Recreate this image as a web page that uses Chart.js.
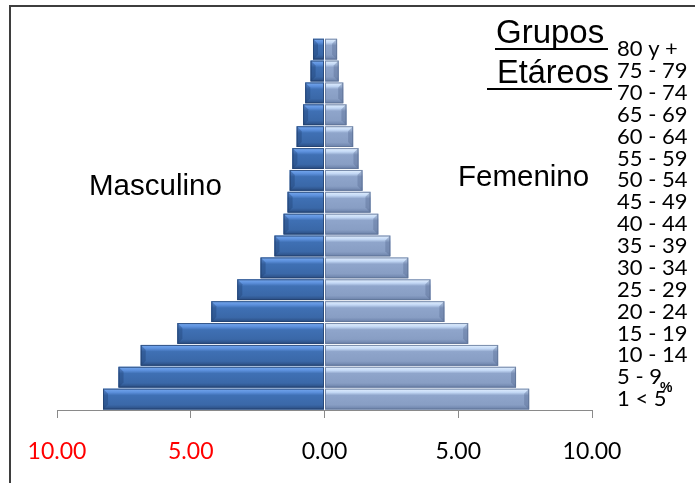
<!DOCTYPE html>
<html>
<head>
<meta charset="utf-8">
<script src="https://cdn.jsdelivr.net/npm/chart.js@4"></script>
<style>
  html, body { margin: 0; padding: 0; background: #fff; }
  #wrap { position: relative; width: 695px; height: 483px; overflow: hidden; }
  #frame { position: absolute; left: 9px; top: 5px; width: 700px; height: 500px;
           border-left: 2px solid #3e3e3e; border-top: 2px solid #3e3e3e; }
  .lbl { position: absolute; font-family: "Liberation Sans", Arial, sans-serif; color: #000; white-space: nowrap; line-height: 1; }
  .uline { position: absolute; height: 0; border-top: 2px solid #000; }
  canvas { position: absolute; left: 0; top: 0; }
</style>
</head>
<body>
<div id="wrap">
  <canvas id="c" width="695" height="483"></canvas>
  <div id="frame"></div>
  <div class="lbl" style="left:89px; top:170px; font-size:29.5px;">Masculino</div>
  <div class="lbl" style="left:458px; top:161px; font-size:29.5px;">Femenino</div>
  <div class="lbl" style="left:496px; top:15px; font-size:33px;">Grupos</div>
  <div class="uline" style="left:495px; top:48px; width:113px;"></div>
  <div class="lbl" style="left:497px; top:56px; font-size:32.5px;">Etáreos</div>
  <div class="uline" style="left:487px; top:88px; width:125px;"></div>
  <div class="lbl" style="left:660px; top:380px; font-size:14px; font-weight:bold;">%</div>
</div>
<script>
// Age groups, top to bottom
const categories = ['80 y +','75 - 79','70 - 74','65 - 69','60 - 64','55 - 59','50 - 54','45 - 49','40 - 44','35 - 39','30 - 34','25 - 29','20 - 24','15 - 19','10 - 14','5 - 9','1 < 5'];
// Percent of population
const male   = [0.43, 0.52, 0.72, 0.80, 1.04, 1.20, 1.30, 1.38, 1.53, 1.87, 2.39, 3.26, 4.23, 5.50, 6.87, 7.70, 8.28];
const female = [0.47, 0.53, 0.70, 0.82, 1.07, 1.27, 1.42, 1.72, 2.01, 2.46, 3.13, 3.96, 4.48, 5.37, 6.49, 7.16, 7.65];
const xTicks = [-10, -5, 0, 5, 10];

const bevelStops = {
  0: [[0, '#78aaf0'], [0.18, '#5b8fdb'], [0.32, '#3f70b4'], [0.78, '#3a68a8'], [1, '#2a4c80']],
  1: [[0, '#e4f1ff'], [0.18, '#c3d8f5'], [0.32, '#8fa5cb'], [0.78, '#889ec4'], [1, '#6a80a8']]
};

const bevelPlugin = {
  id: 'bevel',
  afterDatasetsDraw(chart) {
    const ctx = chart.ctx;
    chart.data.datasets.forEach((ds, di) => {
      const meta = chart.getDatasetMeta(di);
      meta.data.forEach(el => {
        const p = el.getProps(['x', 'y', 'base', 'height'], true);
        const l = Math.min(p.x, p.base), r = Math.max(p.x, p.base);
        const t = p.y - p.height / 2, b = p.y + p.height / 2;
        const g = ctx.createLinearGradient(0, t, 0, b);
        bevelStops[di].forEach(s => g.addColorStop(s[0], s[1]));
        ctx.save();
        ctx.fillStyle = g;
        ctx.fillRect(l, t, r - l, b - t);
        const w = Math.min(5, (r - l) / 2);
        ctx.fillStyle = di === 0 ? 'rgba(30,60,110,0.35)' : 'rgba(80,100,140,0.35)';
        ctx.beginPath();
        if (di === 0) {
          ctx.moveTo(l, t); ctx.lineTo(l + w, t + w); ctx.lineTo(l + w, b - w); ctx.lineTo(l, b);
        } else {
          ctx.moveTo(r, t); ctx.lineTo(r - w, t + w); ctx.lineTo(r - w, b - w); ctx.lineTo(r, b);
        }
        ctx.closePath(); ctx.fill();
        ctx.strokeStyle = di === 0 ? 'rgba(35,65,110,0.8)' : 'rgba(95,115,150,0.8)';
        ctx.lineWidth = 1;
        ctx.strokeRect(l + 0.5, t + 0.5, r - l - 1, b - t - 1);
        ctx.restore();
      });
    });
  }
};

new Chart(document.getElementById('c'), {
  type: 'bar',
  data: {
    labels: categories,
    datasets: [
      { label: 'Masculino', data: male.map(v => -v), backgroundColor: '#3f70b4', barPercentage: 0.95, categoryPercentage: 1 },
      { label: 'Femenino', data: female, backgroundColor: '#8fa5cb', barPercentage: 0.95, categoryPercentage: 1 }
    ]
  },
  options: {
    indexAxis: 'y',
    responsive: false,
    animation: false,
    devicePixelRatio: 1,
    layout: { padding: { left: 57, top: 29, right: 0, bottom: 0 } },
    plugins: { legend: { display: false }, tooltip: { enabled: false } },
    scales: {
      x: {
        stacked: true,
        min: -10, max: 10,
        afterBuildTicks(scale) { scale.ticks = xTicks.map(v => ({ value: v })); },
        afterFit(scale) { scale.height = 73; },
        border: { display: true, color: '#8a8a8a', width: 1 },
        grid: { drawOnChartArea: false, drawTicks: true, tickLength: 8, color: '#8a8a8a' },
        ticks: {
          padding: 20,
          font: { family: 'Lato', size: 23 },
          color: ctx => ctx.tick.value < 0 ? '#ff0000' : '#000000',
          callback: v => Math.abs(v).toFixed(2),
          maxRotation: 0
        }
      },
      y: {
        stacked: true,
        position: 'right',
        afterFit(scale) { scale.width = 103; },
        border: { display: false },
        grid: { display: false, drawTicks: false },
        ticks: {
          padding: 25,
          crossAlign: 'near',
          autoSkip: false,
          font: { family: 'Lato', size: 22 },
          color: '#000'
        }
      }
    }
  },
  plugins: [bevelPlugin]
});
</script>
</body>
</html>
